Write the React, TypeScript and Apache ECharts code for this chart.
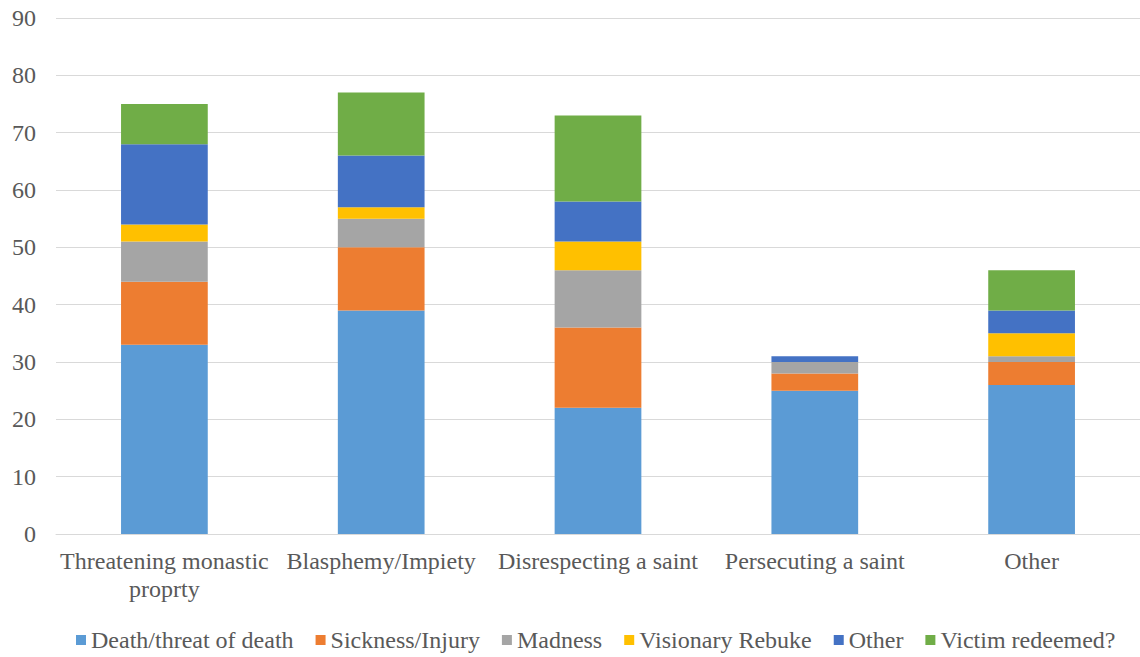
import React, { useEffect, useRef } from "react";
import * as echarts from "echarts";

const categories = [
  "Threatening monastic\nproprty",
  "Blasphemy/Impiety",
  "Disrespecting a saint",
  "Persecuting a saint",
  "Other",
];
const deathThreat = [33, 39, 22, 25, 26];
const sicknessInjury = [11, 11, 14, 3, 4];
const madness = [7, 5, 10, 2, 1];
const visionaryRebuke = [3, 2, 5, 0, 4];
const otherOutcome = [14, 9, 7, 1, 4];
const victimRedeemed = [7, 11, 15, 0, 7];

const seriesDefs = [
  { name: "Death/threat of death", data: deathThreat, color: "#5B9BD5" },
  { name: "Sickness/Injury", data: sicknessInjury, color: "#ED7D31" },
  { name: "Madness", data: madness, color: "#A5A5A5" },
  { name: "Visionary Rebuke", data: visionaryRebuke, color: "#FFC000" },
  { name: "Other", data: otherOutcome, color: "#4472C4" },
  { name: "Victim redeemed?", data: victimRedeemed, color: "#70AD47" },
];

const FONT = "'Liberation Serif', 'Times New Roman', serif";

export default function App() {
  const ref = useRef<HTMLDivElement>(null);
  useEffect(() => {
    document.body.style.margin = "0";
    const chart = echarts.init(ref.current!, undefined, { renderer: "svg" });
    chart.setOption({
      animation: false,
      textStyle: { fontFamily: FONT },
      grid: { left: 56, right: -5, top: 18, bottom: 123, containLabel: false },
      legend: {
        top: 623,
        left: 71,
        itemWidth: 10,
        itemHeight: 10,
        itemGap: 22,
        icon: "rect",
        textStyle: { fontFamily: FONT, fontSize: 24, color: "#595959" },
        data: seriesDefs.map((s) => s.name),
      },
      xAxis: {
        type: "category",
        data: categories,
        axisLine: { show: true, lineStyle: { color: "#D9D9D9" } },
        axisTick: { show: false },
        axisLabel: {
          fontFamily: FONT,
          fontSize: 24,
          color: "#595959",
          margin: 13,
          lineHeight: 28,
          interval: 0,
        },
      },
      yAxis: {
        type: "value",
        min: 0,
        max: 90,
        interval: 10,
        axisLine: { show: false },
        axisTick: { show: false },
        splitLine: { lineStyle: { color: "#D9D9D9", width: 1 } },
        axisLabel: { fontFamily: FONT, fontSize: 24, color: "#595959", margin: 20 },
      },
      series: seriesDefs.map((s) => ({
        name: s.name,
        type: "bar",
        stack: "total",
        barWidth: "40%",
        data: s.data,
        itemStyle: { color: s.color },
      })),
    });
    return () => chart.dispose();
  }, []);
  return <div ref={ref} style={{ width: 1140, height: 657 }} />;
}
